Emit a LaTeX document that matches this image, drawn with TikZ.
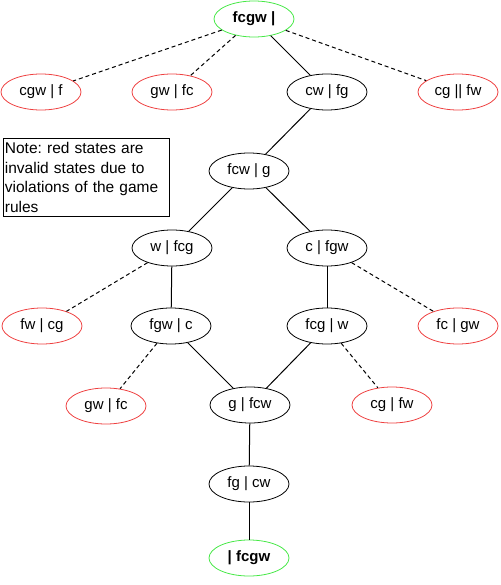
\documentclass[tikz,border=0pt]{standalone}
\usepackage{fontspec}
\setmainfont{Liberation Sans}
\usetikzlibrary{shapes.geometric}
\frenchspacing
\begin{document}
\definecolor{badred}{RGB}{238,64,64}
\definecolor{goodgreen}{RGB}{70,232,70}
\begin{tikzpicture}[x=1pt,y=-1pt,
  state/.style={ellipse,draw=black,line width=0.8pt,minimum width=80pt,minimum height=36pt,inner sep=0pt,font=\fontsize{15}{17}\selectfont},
  invalid/.style={state,draw=badred},
  endstate/.style={state,draw=goodgreen,font=\fontsize{15}{17}\selectfont\bfseries},
  move/.style={line width=1pt},
  badmove/.style={line width=1pt,dash pattern=on 4pt off 3pt}]
\useasboundingbox (0,0) rectangle (500,585);

% start and goal
\node[endstate] (start) at (254,19) {fcgw |};
\node[endstate] (goal) at (249,558) {| fcgw};

% first crossing
\node[invalid] (cgwf) at (41,92) {cgw | f};
\node[invalid] (gwfc1) at (172,92) {gw | fc};
\node[state] (cwfg) at (327,92) {cw | fg};
\node[invalid] (cgfw1) at (458,92) {cg || fw};

\node[state] (fcwg) at (249,171) {fcw | g};

\node[state] (wfcg) at (172,248) {w | fcg};
\node[state] (cfgw) at (327,248) {c | fgw};

\node[invalid] (fwcg) at (42,326) {fw | cg};
\node[state] (fgwc) at (171,326) {fgw | c};
\node[state] (fcgw) at (327,326) {fcg | w};
\node[invalid] (fcgw2) at (458,326) {fc | gw};

\node[invalid] (gwfc2) at (106,406) {gw | fc};
\node[state] (gfcw) at (250,405) {g | fcw};
\node[invalid] (cgfw2) at (392,405) {cg | fw};

\node[state] (fgcw) at (249,484) {fg | cw};

% note
\node[draw=black,line width=0.8pt,anchor=north west,text width=163pt,inner sep=1.5pt,
  minimum height=78pt,align=left,font=\fontsize{15.5}{19.5}\selectfont] (note) at (3,138)
  {Note: red states are\\invalid states due to\\violations of the game\\rules};

% moves
\draw[badmove] (start) -- (cgwf);
\draw[badmove] (start) -- (gwfc1);
\draw[move] (start) -- (cwfg);
\draw[badmove] (start) -- (cgfw1);
\draw[move] (cwfg) -- (fcwg);
\draw[move] (fcwg) -- (wfcg);
\draw[move] (fcwg) -- (cfgw);
\draw[badmove] (wfcg) -- (fwcg);
\draw[move] (wfcg) -- (fgwc);
\draw[move] (cfgw) -- (fcgw);
\draw[badmove] (cfgw) -- (fcgw2);
\draw[badmove] (fgwc) -- (gwfc2);
\draw[move] (fgwc) -- (gfcw);
\draw[move] (fcgw) -- (gfcw);
\draw[badmove] (fcgw) -- (cgfw2);
\draw[move] (gfcw) -- (fgcw);
\draw[move] (fgcw) -- (goal);
\end{tikzpicture}
\end{document}
